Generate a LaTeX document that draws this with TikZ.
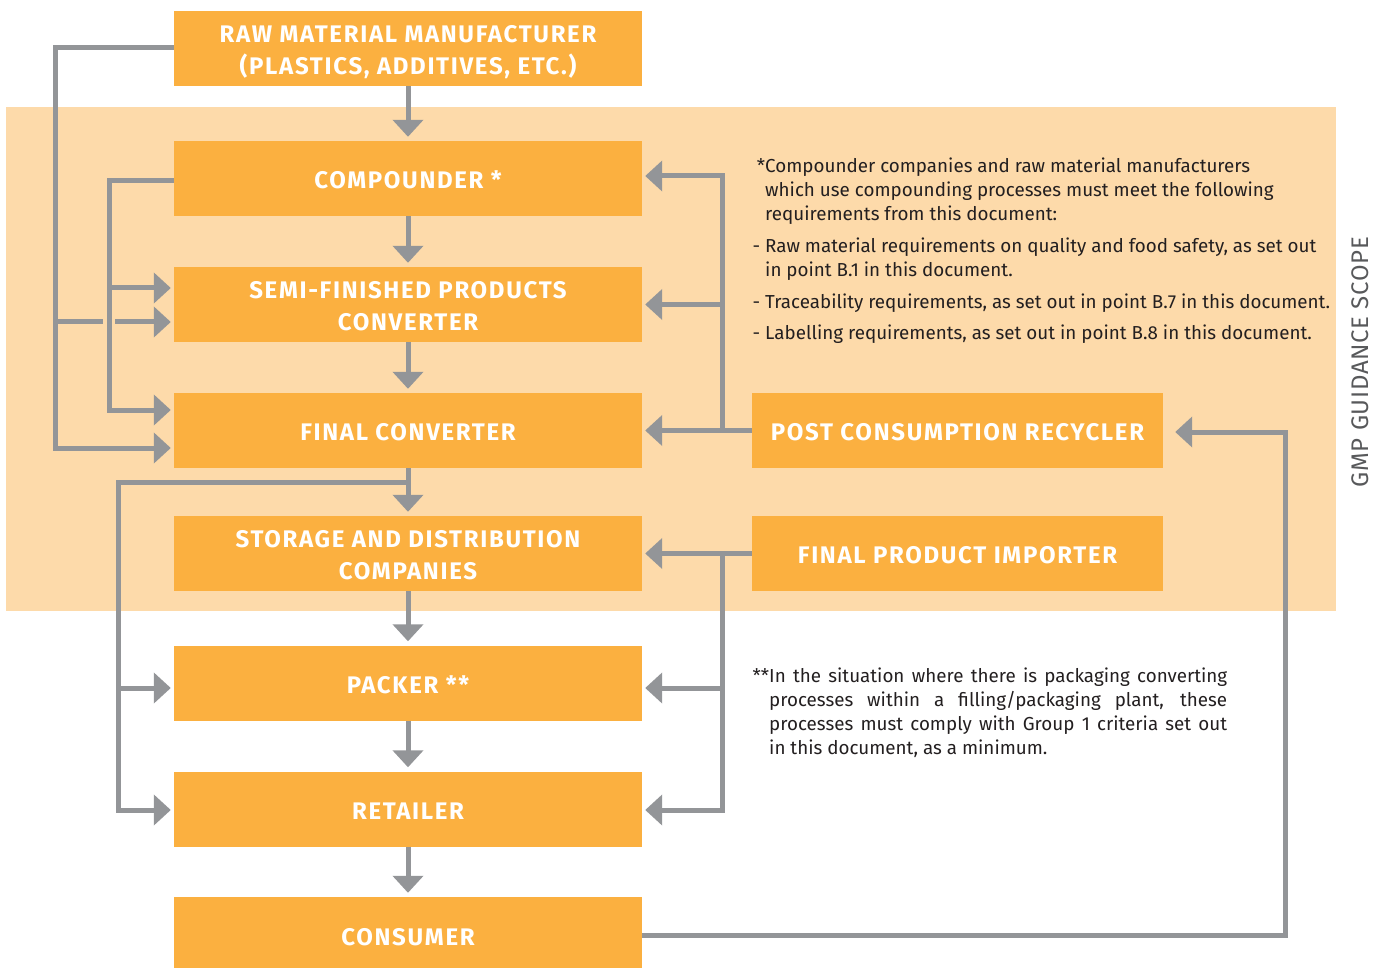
\documentclass[tikz,border=0pt]{standalone}
\usepackage{fontspec}
\setmainfont{Fira Sans}
\newfontfamily\boxfont{Fira Sans}[LetterSpace=7]
\newfontfamily\notefont{Fira Sans}
\newfontfamily\scopefont{Fira Sans}[LetterSpace=3]
\usetikzlibrary{arrows.meta}
\definecolor{boxc}{HTML}{FBB040}
\definecolor{bandc}{HTML}{FDDAAA}
\definecolor{lgray}{HTML}{939598}
\definecolor{notec}{HTML}{231F20}
\definecolor{scopec}{HTML}{58595B}
\newcommand{\bst}{\rule[-5.5pt]{0pt}{31pt}}
\newcommand{\bstlow}{\rule[-5.5pt]{0pt}{37pt}}
\tikzset{
  box/.style={fill=boxc, text=white, minimum height=75pt, inner sep=0pt, align=center,
    font=\boxfont\bfseries\fontsize{24}{32}\selectfont},
  lbox/.style={box, minimum width=468pt},
  rbox/.style={box, minimum width=411pt},
  ln/.style={draw=lgray, line width=5pt},
  arr/.style={ln, -{Triangle[width=30pt,length=17pt]}},
  varr/.style={arr, shorten >=4pt},
  harr/.style={arr, shorten >=3pt},
  note/.style={text=notec, inner sep=0pt, align=left, font=\notefont\fontsize{18.8}{24}\selectfont}
}
\begin{document}
\begin{tikzpicture}[x=1pt,y=-1pt]
\useasboundingbox (0,0) rectangle (1382,968);
\fill[bandc] (6,107) rectangle (1336,611);
% left column
\node[lbox] (raw) at (408,48.5) {\bst RAW MATERIAL MANUFACTURER\\\bst(PLASTICS, ADDITIVES, ETC.)};
\node[lbox] (comp) at (408,178.5) {\bst COMPOUNDER *};
\node[lbox] (semi) at (408,304.5) {\bst SEMI-FINISHED PRODUCTS\\\bst CONVERTER};
\node[lbox] (fc) at (408,430.5) {\bst FINAL CONVERTER};
\node[lbox] (st) at (408,553.5) {\bst STORAGE AND DISTRIBUTION\\\bst COMPANIES};
\node[lbox] (pk) at (408,683) {\bst PACKER **};
\node[lbox] (rt) at (408,809) {\bst RETAILER};
\node[lbox, minimum height=71pt] (cons) at (408,932.5) {\bstlow CONSUMER};
% right column
\node[rbox] (pcr) at (957.5,430.5) {\bst POST CONSUMPTION RECYCLER};
\node[rbox] (imp) at (957.5,553.5) {\bst FINAL PRODUCT IMPORTER};
% main chain
\draw[varr] (raw.south) -- (comp.north);
\draw[varr] (comp.south) -- (semi.north);
\draw[varr] (semi.south) -- (fc.north);
\draw[varr] (fc.south) -- (st.north);
\draw[varr] (st.south) -- (pk.north);
\draw[varr] (pk.south) -- (rt.north);
\draw[varr] (rt.south) -- (cons.north);
% outer left loop
\coordinate (ox) at (55,0);
\coordinate (ix) at (109,0);
\draw[harr] (raw.west |- 0,48) -| (ox |- 0,448) -- (fc.west |- 0,448);
\draw[ln] (ox |- 0,322) -- (103,322);
\draw[harr] (115,322) -- (semi.west |- 0,322);
% inner left loop
\draw[harr] (comp.west |- 0,181) -| (ix |- 0,410) -- (fc.west |- 0,410);
\draw[harr] (ix |- 0,288) -- (semi.west |- 0,288);
% from final converter to packer / retailer
\coordinate (bx) at (118,0);
\draw[harr] (fc.south |- 0,482) -| (bx |- 0,810) -- (rt.west |- 0,810);
\draw[harr] (bx |- 0,688) -- (pk.west |- 0,688);
% right side
\coordinate (rx) at (722,0);
\draw[harr] (pcr.west) -- (fc.east);
\draw[harr] (rx |- 0,430.5) |- (comp.east |- 0,176);
\draw[harr] (rx |- 0,304.5) -- (semi.east |- 0,304.5);
\draw[harr] (imp.west) -- (st.east);
\draw[harr] (rx |- 0,553.5) |- (rt.east |- 0,810);
\draw[harr] (rx |- 0,688) -- (pk.east |- 0,688);
% consumer back to recycler
\coordinate (cx) at (1285,0);
\draw[arr, shorten >=12pt] (cons.east |- 0,935) -| (cx |- 0,432) -- (pcr.east |- 0,432);
% notes
\node[note, anchor=north west] (n1) at (765,158) {%
\llap{*}Compounder companies and raw material manufacturers\\
which use compounding processes must meet the following\\
requirements from this document:\\[8pt]
\llap{- }Raw material requirements on quality and food safety, as set out\\
in point B.1 in this document.\\[8pt]
\llap{- }Traceability requirements, as set out in point B.7 in this document.\\[7pt]
\llap{- }Labelling requirements, as set out in point B.8 in this document.};
\node[note, anchor=north west] (n2) at (769,668) {%
\llap{**}\makebox[458pt][s]{In the situation where there is packaging converting}\\
\makebox[458pt][s]{processes within a filling/packaging plant, these}\\
\makebox[458pt][s]{processes must comply with Group 1 criteria set out}\\
in this document, as a minimum.};
\node[text=scopec, rotate=90, inner sep=0pt, font=\scopefont\fontsize{24}{24}\selectfont] (scope) at (1360,362) {GMP GUIDANCE SCOPE};
\end{tikzpicture}
\end{document}
